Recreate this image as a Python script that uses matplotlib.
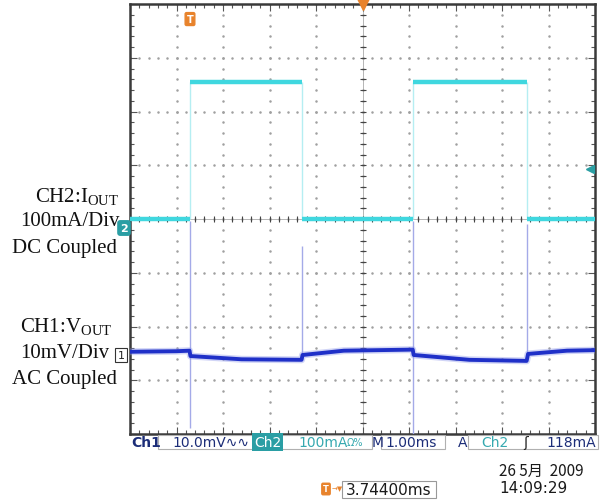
import numpy as np
import matplotlib
matplotlib.use("Agg")
import matplotlib.pyplot as plt
from matplotlib.transforms import blended_transform_factory

plt.rcParams['mathtext.fontset'] = 'custom'
plt.rcParams['mathtext.rm'] = 'Liberation Serif'
plt.rcParams['mathtext.it'] = 'Liberation Serif:italic'
plt.rcParams['mathtext.bf'] = 'Liberation Serif:bold'

# scope settings
ch1_mv_per_div = 10.0
ch2_ma_per_div = 100.0
ch1_offset_div = -2.53
ch2_offset_div = 0.0
trig_level_div = 0.93

# CH2 load current (mA): square wave, edges in ms
ch2_edges_ms = [1.29, 3.70, 6.09, 8.54]
ch2_low_ma = 0.0
ch2_high_ma = 255.0

# CH1 output voltage ripple (mV, AC coupled)
ch1_t_ms = [0.0, 1.0, 1.28, 1.30, 2.4, 3.69, 3.71, 4.6, 6.08, 6.10, 7.3, 8.53, 8.56, 9.4, 10.0]
ch1_mv = [0.6, 0.7, 0.8, -0.2, -0.8, -0.9, 0.0, 0.8, 1.0, 0.0, -0.9, -1.1, 0.2, 0.8, 0.9]

# transient spikes on CH1 at each load edge (mV)
spike_t_ms = [1.29, 3.70, 6.09, 8.54]
spike_hi_mv = [25.0, 20.3, 25.0, 24.4]
spike_lo_mv = [-13.5, -0.5, -16.0, -0.5]

W, H = 614, 502
fig = plt.figure(figsize=(W / 100, H / 100), dpi=100)
fig.patch.set_facecolor('white')


def px(x, y):
    return x / W, 1 - y / H


ax = fig.add_axes([130 / W, 1 - 435 / H, 465 / W, 430 / H])
ax.set_xlim(0, 10)
ax.set_ylim(-4, 4)
for s in ax.spines.values():
    s.set_color('#3a3a3a')
    s.set_linewidth(1.8)
ax.set_xticks(np.arange(0, 11, 1))
ax.set_yticks(np.arange(-4, 5, 1))
ax.set_xticks(np.arange(0, 10.01, 0.2), minor=True)
ax.set_yticks(np.arange(-4, 4.01, 0.2), minor=True)
ax.tick_params(which='both', direction='in', top=True, right=True,
               labelbottom=False, labelleft=False, color='#555555', width=0.8)
ax.tick_params(which='major', length=5)
ax.tick_params(which='minor', length=3)

# dotted graticule
xs_minor = np.arange(0, 10.01, 0.2)
ys_minor = np.arange(-4, 4.01, 0.2)
for k in range(1, 10):
    ax.plot(np.full_like(ys_minor, k), ys_minor, ls='none', marker='.', ms=1.6,
            color='#a0a0a0', zorder=1)
for j in range(-3, 4):
    ax.plot(xs_minor, np.full_like(xs_minor, j), ls='none', marker='.', ms=1.6,
            color='#a0a0a0', zorder=1)
# centre cross with tick marks
ax.axhline(0, color='#999999', lw=0.5, zorder=1)
ax.axvline(5, color='#999999', lw=0.5, zorder=1)
ax.plot(xs_minor, np.zeros_like(xs_minor), ls='none', marker='|', ms=5, mew=0.8,
        color='#444444', zorder=1)
ax.plot(np.full_like(ys_minor, 5), ys_minor, ls='none', marker='_', ms=5, mew=0.8,
        color='#444444', zorder=1)

# CH2 trace
ch2_c = '#3fd7df'
edges = [0.0] + ch2_edges_ms + [10.0]
for i in range(len(edges) - 1):
    lvl = ch2_high_ma if i % 2 == 1 else ch2_low_ma
    y = lvl / ch2_ma_per_div + ch2_offset_div
    ax.plot([edges[i], edges[i + 1]], [y, y], color=ch2_c, lw=3.2,
            solid_capstyle='butt', zorder=4)
ax.vlines(ch2_edges_ms, ch2_low_ma / ch2_ma_per_div + ch2_offset_div,
          ch2_high_ma / ch2_ma_per_div + ch2_offset_div, color='#b5eef2', lw=1.0, zorder=3)

# CH1 trace
y1 = np.array(ch1_mv) / ch1_mv_per_div + ch1_offset_div
ax.vlines(spike_t_ms, np.array(spike_lo_mv) / ch1_mv_per_div + ch1_offset_div,
          np.array(spike_hi_mv) / ch1_mv_per_div + ch1_offset_div,
          color='#a4aae8', lw=1.0, zorder=3)
ax.plot(ch1_t_ms, y1, color='#8d96ea', lw=5, alpha=0.4, zorder=4)
ax.plot(ch1_t_ms, y1, color='#1f30c8', lw=2.8, zorder=5)

orange = '#e8832c'
bt = blended_transform_factory(ax.transData, ax.transAxes)
ax.text(ch2_edges_ms[0], 0.965, 'T', transform=bt, ha='center', va='center',
        color='white', fontsize=7, fontweight='bold',
        bbox=dict(boxstyle='round,pad=0.15', fc=orange, ec=orange))
ax.plot([5], [4], marker='v', color=orange, ms=8, clip_on=False, zorder=6)
ax.plot([9.9], [trig_level_div], marker='<', color='#2b9fa3', ms=6, zorder=6)

# channel markers
fig.text(*px(124, 229), '2', ha='center', va='center', color='white', fontsize=8,
         fontweight='bold', bbox=dict(boxstyle='round,pad=0.2', fc='#2a9ea4', ec='#2a9ea4'))
fig.text(*px(121, 356), '1', ha='center', va='center', color='#222222', fontsize=8,
         bbox=dict(boxstyle='square,pad=0.2', fc='white', ec='#333333', lw=0.8))

# left labels
serif = 'Liberation Serif'
lbl = [(77, 197, r'CH2:I$_{\mathrm{OUT}}$'), (70, 222, '100mA/Div'),
       (64, 248, 'DC Coupled'), (66, 327, r'CH1:V$_{\mathrm{OUT}}$'),
       (65, 353, '10mV/Div'), (64, 380, 'AC Coupled')]
for x, y, s in lbl:
    fig.text(*px(x, y), s, ha='center', va='center', fontsize=15, family=serif,
             color='#111111')

# status bar
sans = 'DejaVu Sans'
fs = 10
navy = '#1c2d78'
teal = '#36a9b0'
fig.text(*px(131, 443), 'Ch1', ha='left', va='center', fontsize=fs, family=sans,
         fontweight='bold', color=navy)
fig.text(*px(172, 443), '10.0mV\u223f\u223f', ha='left', va='center', fontsize=fs,
         family=sans, color=navy)
fig.text(*px(254, 443), 'Ch2', ha='left', va='center', fontsize=fs, family=sans,
         color='white', bbox=dict(boxstyle='square,pad=0.15', fc='#2a9ea4', ec='none'))
fig.text(*px(298, 443), '100mA', ha='left', va='center', fontsize=fs, family=sans,
         color=teal)
fig.text(*px(347, 443), '\u03a9%', ha='left', va='center', fontsize=7, family=sans,
         color=teal)
fig.text(*px(372, 443), 'M', ha='left', va='center', fontsize=fs, family=sans, color=navy)
fig.text(*px(385, 443), '1.00ms', ha='left', va='center', fontsize=fs, family=sans,
         color=navy)
fig.text(*px(458, 443), 'A', ha='left', va='center', fontsize=fs, family=sans, color=navy)
fig.text(*px(481, 443), 'Ch2', ha='left', va='center', fontsize=fs, family=sans, color=teal)
fig.text(*px(523, 443), '\u0283', ha='left', va='center', fontsize=fs, family=sans,
         color='#222222')
fig.text(*px(546, 443), '118mA', ha='left', va='center', fontsize=fs, family=sans,
         color=navy)
for x0, x1 in [(158, 281), (281, 372), (381, 445), (468, 598)]:
    fig.add_artist(plt.Rectangle(px(x0, 450), (x1 - x0) / W, 14 / H,
                                 fill=False, ec='#b0b0b0', lw=0.8))

# bottom row
fig.text(*px(326, 490), 'T', ha='center', va='center', color='white', fontsize=6,
         fontweight='bold', bbox=dict(boxstyle='round,pad=0.15', fc=orange, ec=orange))
fig.text(*px(332, 489), '\u2192\u25bc', ha='left', va='center', fontsize=5, color=orange)
fig.text(*px(346, 491), '3.74400ms', ha='left', va='center', fontsize=11, family=sans,
         color='#1a1a1a')
fig.add_artist(plt.Rectangle(px(342, 499), 94 / W, 17 / H, fill=False, ec='#999999', lw=0.8))
fig.text(*px(499, 471), '26 5月  2009', ha='left', va='center', fontsize=11,
         family=['Noto Sans CJK SC', 'DejaVu Sans'], color='#1a1a1a')
fig.text(*px(499, 489), '14:09:29', ha='left', va='center', fontsize=11, family=sans,
         color='#1a1a1a')

fig.savefig('out.png', dpi=100, facecolor='white')
